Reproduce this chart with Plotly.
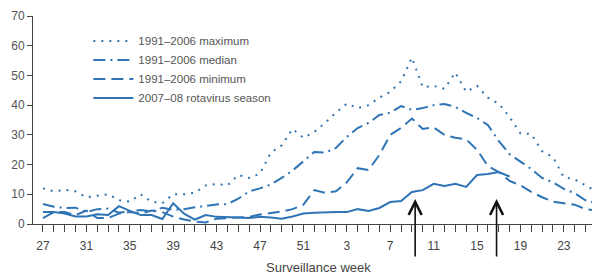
import plotly.graph_objects as go

weeks = list(range(27, 53)) + list(range(1, 27))
idx = list(range(len(weeks)))

maximum = [12, 11, 11.5, 11, 9, 9.5, 10, 8, 7.5, 10, 7.5, 7, 10, 10, 10.5, 13, 13.5, 13,
           16.5, 15.5, 17, 24, 26.5, 32, 29, 31, 34, 37.5, 40.5, 39, 40, 42.5, 44.5, 48,
           56, 46, 46.5, 45.5, 51, 44.5, 46.5, 42.5, 40.5, 36, 30.5, 30.3, 24.5, 22.5,
           15.8, 15, 13, 11]
median = [6.7, 5.8, 5.4, 5.5, 4, 5, 5.2, 3.8, 4.2, 4.7, 4.2, 5.5, 4.8, 5, 5.6, 6.2, 6.6,
          6.7, 8.5, 11, 12, 13.3, 15.5, 18, 21, 24.2, 24, 25.6, 29.3, 32.3, 34, 36.7,
          37.4, 39.7, 38.4, 39, 40, 40.4, 39.4, 37.4, 35.7, 33.3, 28, 23.5, 21, 18.5,
          15.5, 14, 11.8, 10.4, 8, 7]
minimum = [2, 4, 4, 3, 4.5, 2, 2, 3.5, 4, 3.5, 4.5, 4, 2.5, 1.5, 0.8, 0.5, 1.8, 2, 2.2,
           2.4, 3.2, 3.7, 4.2, 5, 6.5, 11.4, 10.5, 11, 14, 18.8, 18.2, 23.2, 30, 32.3,
           35.5, 32, 32.5, 30, 29, 28.5, 25, 19.5, 17.5, 14.5, 13, 10.8, 9, 7.5, 7, 6.5,
           5, 4.5]
season = [4, 4, 3.5, 2.5, 2.5, 3.3, 3, 6, 4.4, 3, 3, 1.7, 7, 3.5, 1.5, 3, 2.4, 2.4, 2.2,
          2, 2.4, 2.2, 1.8, 2.5, 3.5, 3.8, 4, 4, 4, 5, 4.4, 5.4, 7.4, 7.7, 10.8, 11.4,
          13.5, 12.8, 13.5, 12.5, 16.5, 16.8, 17.5, 16] + [None] * 8

arrow_weeks = [34.3, 41.8]
arrow_tip_values = [8.4, 8.4]

tick_labels = [str(w) if i % 4 == 0 else "" for i, w in enumerate(weeks)]

BLUE = "#2f74b5"
FONT = "Liberation Sans, Arial, sans-serif"

fig = go.Figure()
series = [
    ("1991–2006 maximum", maximum, "2px,6px"),
    ("1991–2006 median", median, "12px,5px,2px,5px"),
    ("1991–2006 minimum", minimum, "12px,6px"),
    ("2007–08 rotavirus season", season, "solid"),
]
for name, vals, dash in series:
    fig.add_trace(go.Scatter(x=idx, y=vals, mode="lines", name=name,
                             line=dict(color=BLUE, width=2, dash=dash),
                             connectgaps=False))

for xa, ya in zip(arrow_weeks, arrow_tip_values):
    fig.add_annotation(x=xa, y=ya, xref="x", yref="y", text="", showarrow=True,
                       ax=0, ay=59, arrowhead=5, arrowsize=1.6, arrowwidth=1.6,
                       arrowcolor="#111111")

fig.add_annotation(text="Surveillance week", xref="paper", yref="paper",
                   x=0.505, y=-0.21, showarrow=False, yanchor="middle",
                   font=dict(size=13, color="#444444", family=FONT))

# page body has an 8px margin: shrink the figure so the plot area lands where intended
fig.update_layout(
    width=592, height=266,
    margin=dict(l=25, r=2, t=8, b=50),
    paper_bgcolor="white", plot_bgcolor="white",
    font=dict(family=FONT, size=12, color="#555555"),
    showlegend=True,
    legend=dict(x=0.098, y=0.95, xanchor="left", yanchor="top",
                bgcolor="rgba(0,0,0,0)", font=dict(size=11.5, color="#555555"),
                tracegroupgap=0, itemwidth=40),
    xaxis=dict(range=[-0.92, 51.15], tickmode="array", tickvals=idx,
               ticktext=tick_labels, ticks="outside", ticklen=7, tickwidth=1,
               tickcolor="#444444", showline=True, linecolor="#444444",
               linewidth=1, showgrid=False, zeroline=False, ticklabelstandoff=4,
               tickfont=dict(size=12, color="#444444")),
    yaxis=dict(range=[0, 70], tickvals=[0, 10, 20, 30, 40, 50, 60, 70],
               ticks="outside", ticklen=5, tickwidth=1, tickcolor="#444444",
               showline=True, linecolor="#444444", linewidth=1,
               showgrid=False, zeroline=False,
               tickfont=dict(size=12, color="#555555")),
)

fig.write_html("out.html")
